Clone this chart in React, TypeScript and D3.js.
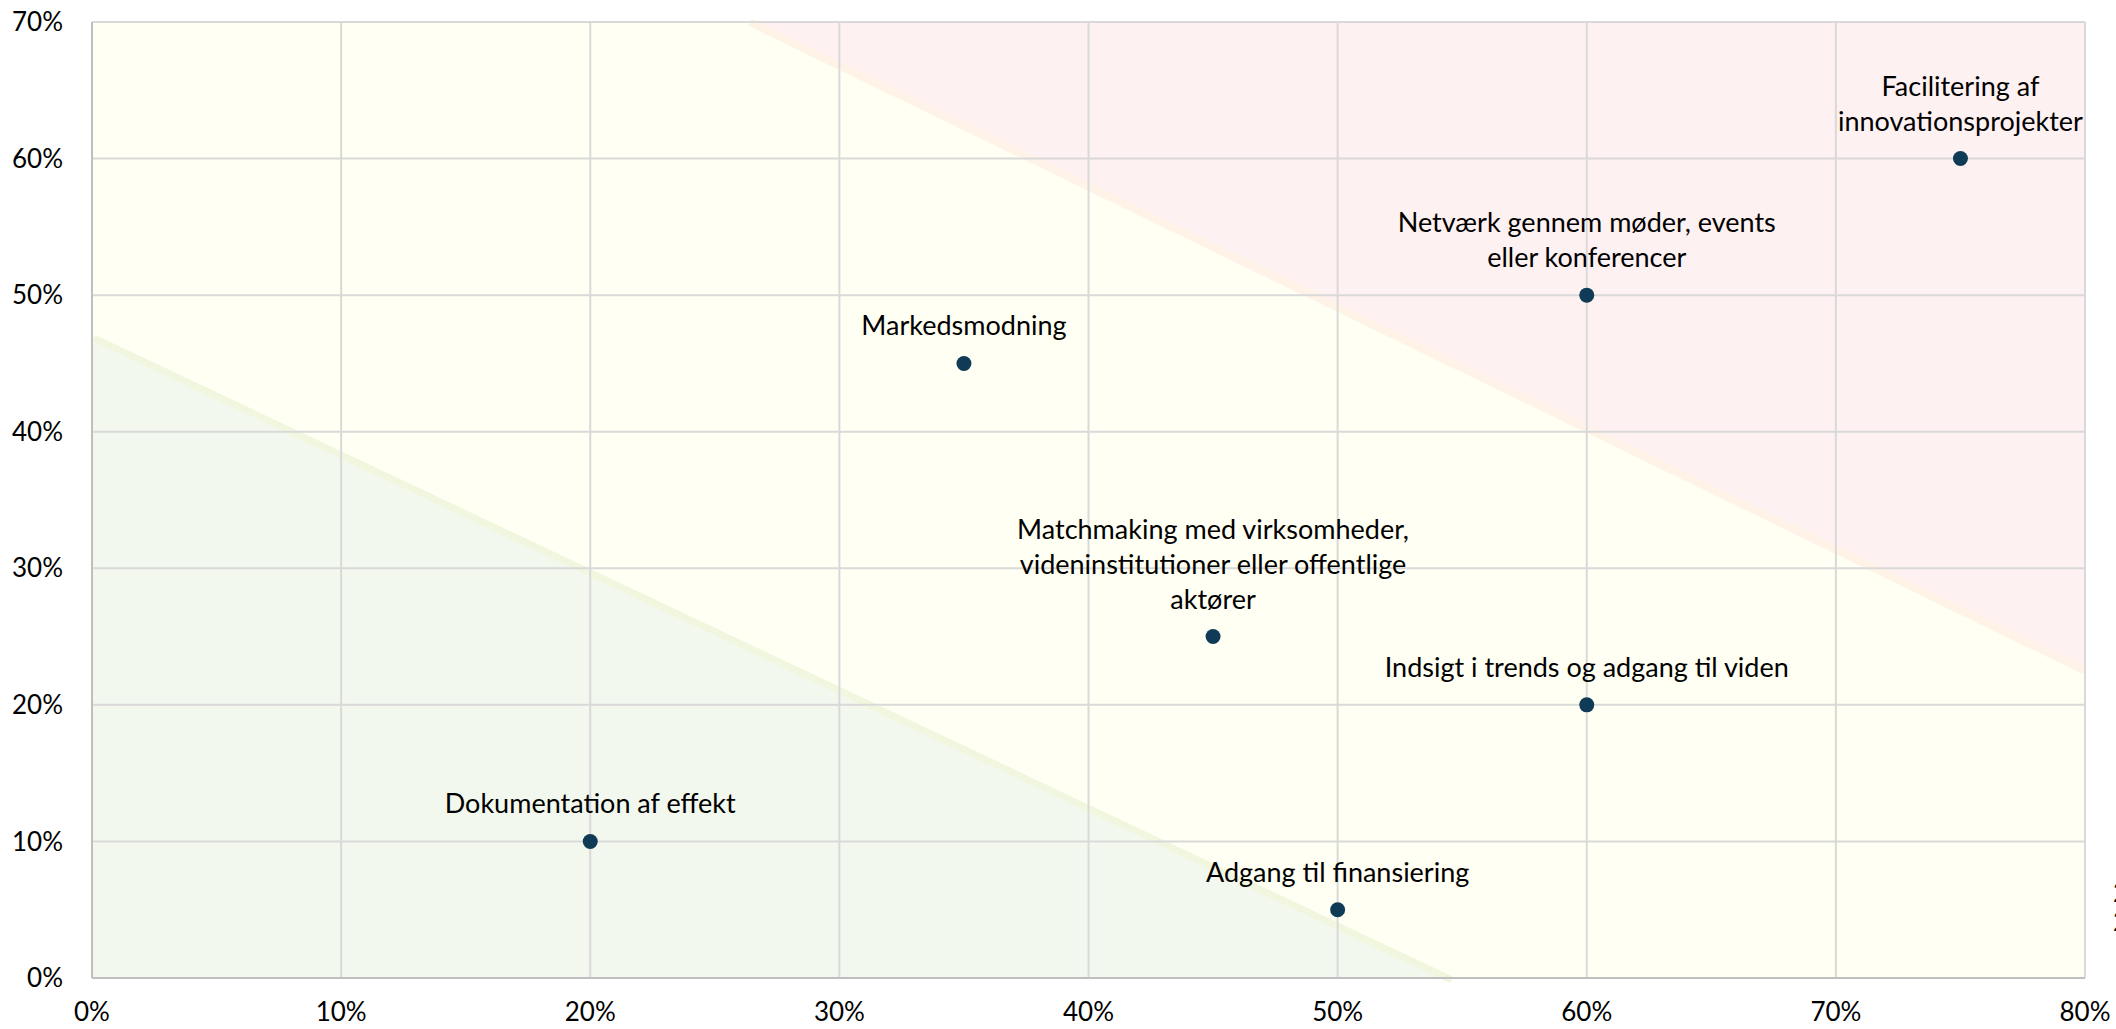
import { useEffect, useRef } from "react";
import * as d3 from "d3";

// services: name lines, x value, y value (percent)
const labels = [
  ["Facilitering af", "innovationsprojekter"],
  ["Netværk gennem møder, events", "eller konferencer"],
  ["Markedsmodning"],
  ["Matchmaking med virksomheder,", "videninstitutioner eller offentlige", "aktører"],
  ["Indsigt i trends og adgang til viden"],
  ["Dokumentation af effekt"],
  ["Adgang til finansiering"],
];
const xValues = [75, 60, 35, 45, 60, 20, 50];
const yValues = [60, 50, 45, 25, 20, 10, 5];

const xTicks = [0, 10, 20, 30, 40, 50, 60, 70, 80];
const yTicks = [0, 10, 20, 30, 40, 50, 60, 70];

// background zones (percent coordinates)
const greenZone: [number, number][] = [[0, 0], [0, 47], [54.5, 0]];
const redZone: [number, number][] = [[26.4, 70], [80, 70], [80, 22.5]];

export default function App() {
  const ref = useRef<SVGSVGElement>(null);

  useEffect(() => {
    if (!ref.current) return;
    const svg = d3.select(ref.current);
    svg.selectAll("*").remove();

    const width = 2116;
    const height = 1029;
    const margin = { top: 22, right: 31, bottom: 51, left: 92 };
    const font = "Lato, 'Open Sans', sans-serif";

    const x = d3.scaleLinear().domain([0, 80]).range([margin.left, width - margin.right]);
    const y = d3.scaleLinear().domain([0, 70]).range([height - margin.bottom, margin.top]);

    // yellow base
    svg
      .append("rect")
      .attr("x", x(0))
      .attr("y", y(70))
      .attr("width", x(80) - x(0))
      .attr("height", y(0) - y(70))
      .attr("fill", "#fffff3");

    const line = d3
      .line<[number, number]>()
      .x((d) => x(d[0]))
      .y((d) => y(d[1]));

    svg
      .append("path")
      .attr("d", line(greenZone) + "Z")
      .attr("fill", "#f3f8ee");
    svg
      .append("path")
      .attr("d", line([greenZone[1], greenZone[2]]))
      .attr("stroke", "#f1f7de")
      .attr("stroke-width", 7)
      .attr("transform", "translate(2,2)")
      .attr("fill", "none");

    svg
      .append("path")
      .attr("d", line(redZone) + "Z")
      .attr("fill", "#fef1f2");
    svg
      .append("path")
      .attr("d", line([redZone[0], redZone[2]]))
      .attr("stroke", "#fff3e8")
      .attr("stroke-width", 8)
      .attr("fill", "none");

    // grid
    svg
      .append("g")
      .selectAll("line")
      .data(xTicks)
      .join("line")
      .attr("x1", (d) => x(d))
      .attr("x2", (d) => x(d))
      .attr("y1", y(0))
      .attr("y2", y(70))
      .attr("stroke", "#d9d9d9")
      .attr("stroke-width", 2);
    svg
      .append("g")
      .selectAll("line")
      .data(yTicks)
      .join("line")
      .attr("x1", x(0))
      .attr("x2", x(80))
      .attr("y1", (d) => y(d))
      .attr("y2", (d) => y(d))
      .attr("stroke", "#d9d9d9")
      .attr("stroke-width", 2);

    // axis lines
    svg
      .append("line")
      .attr("x1", x(0))
      .attr("x2", x(0))
      .attr("y1", y(0))
      .attr("y2", y(70))
      .attr("stroke", "#bfbfbf")
      .attr("stroke-width", 2);
    svg
      .append("line")
      .attr("x1", x(0))
      .attr("x2", x(80))
      .attr("y1", y(0))
      .attr("y2", y(0))
      .attr("stroke", "#bfbfbf")
      .attr("stroke-width", 2);

    // tick labels
    svg
      .append("g")
      .selectAll("text")
      .data(yTicks)
      .join("text")
      .attr("x", margin.left - 29)
      .attr("y", (d) => y(d))
      .attr("dy", "0.35em")
      .attr("text-anchor", "end")
      .style("font-family", font)
      .style("font-size", "26px")
      .attr("fill", "#000")
      .text((d) => `${d}%`);
    svg
      .append("g")
      .selectAll("text")
      .data(xTicks)
      .join("text")
      .attr("x", (d) => x(d))
      .attr("y", height - 8)
      .attr("text-anchor", "middle")
      .style("font-family", font)
      .style("font-size", "26px")
      .attr("fill", "#000")
      .text((d) => `${d}%`);

    // points
    const idx = d3.range(xValues.length);
    svg
      .append("g")
      .selectAll("circle")
      .data(idx)
      .join("circle")
      .attr("cx", (i) => x(xValues[i]))
      .attr("cy", (i) => y(yValues[i]))
      .attr("r", 7.5)
      .attr("fill", "#0f3b56");

    // data labels
    const lh = 35;
    idx.forEach((i) => {
      const lines = labels[i];
      const t = svg
        .append("text")
        .attr("text-anchor", "middle")
        .style("font-family", font)
        .style("font-size", "27px")
        .attr("fill", "#000");
      lines.forEach((s, j) => {
        t.append("tspan")
          .attr("x", x(xValues[i]))
          .attr("y", y(yValues[i]) - 28 - (lines.length - 1 - j) * lh)
          .text(s);
      });
    });

    // clipped legend fragments at right edge
    ["2", "2"].forEach((s, j) => {
      svg
        .append("text")
        .attr("x", width - 3)
        .attr("y", 902 + j * 29)
        .style("font-family", font)
        .style("font-size", "26px")
        .attr("fill", "#000")
        .text(s);
    });
  }, []);

  return (
    <svg
      ref={ref}
      width={2116}
      height={1029}
      style={{ position: "absolute", left: 0, top: 0, background: "#fff" }}
    />
  );
}
